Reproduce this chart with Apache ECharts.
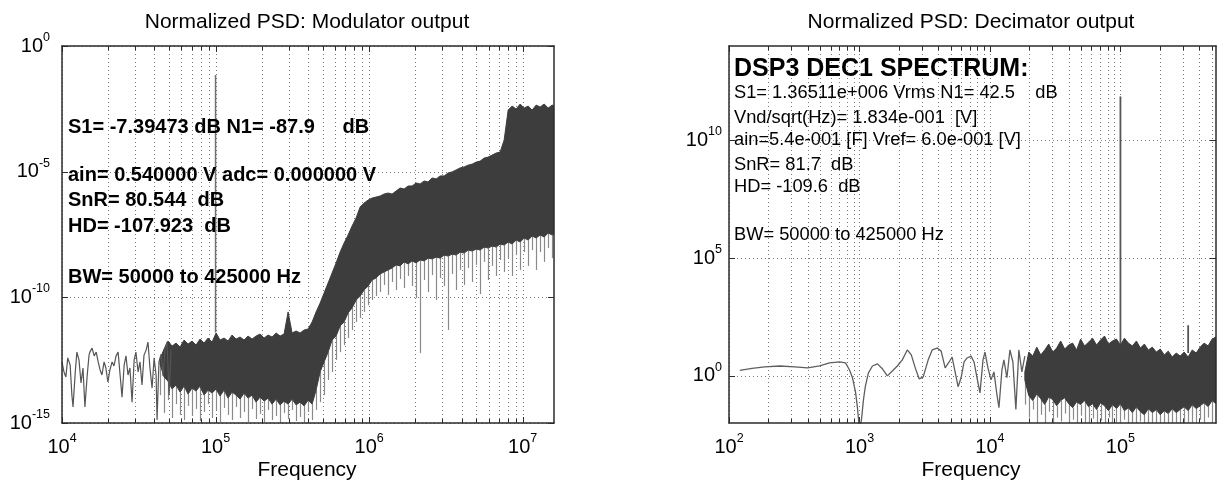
<!DOCTYPE html>
<html><head><meta charset="utf-8">
<script src="https://cdn.jsdelivr.net/npm/echarts@6/dist/echarts.min.js"></script>
<style>html,body{margin:0;padding:0;background:#fff}#c{width:1219px;height:484px}</style>
</head><body><div id="c"></div>
<script>
// ---------- Left panel: Modulator output (PSD in dB, frequency in Hz) ----------
const modXRange = [1e4, 1.6e7];
const modYRange = [1e-15, 1];
const modXDecades = [1e4, 1e5, 1e6, 1e7];
const modYTicks = [1e-15, 1e-10, 1e-5, 1];
const modSparseF = [10000,10300,10600,10900,11300,11600,11800,12200,12500,12900,13300,13700,14100,14600,15000,15200,15700,16200,16700,17200,17700,18200,18800,19300,19900,20500,21200,21800,22500,23200,23900,24600,25400,26100,26900,27700,28600,29500,30300,31300,32200,33200,34200,35300,36300,37400,38600,39800,41000,41600,42800,44200,45500,46900,48300,49800,51300];
const modSparseDb = [-125.7,-129.7,-131.7,-124.1,-126.9,-138.9,-143.6,-129.7,-121.8,-124.9,-134.1,-128.1,-143.6,-130.9,-123.0,-121.8,-120.2,-123.3,-121.8,-125.7,-128.9,-130.9,-125.7,-128.1,-133.7,-128.9,-125.7,-127.3,-123.3,-121.8,-130.9,-139.7,-126.9,-123.3,-130.9,-128.1,-141.7,-124.9,-121.8,-129.7,-125.7,-134.9,-123.0,-121.0,-117.8,-128.1,-136.1,-124.1,-130.9,-148.8,-125.7,-122.6,-131.3,-120.2,-117.8,-138.9,-121.0];
const modBandF = [43500,46200,49000,52100,55300,58700,62400,66200,70300,74600,79300,84200,89400,94900,100800,107000,113600,120600,128100,136000,144400,153400,162800,172900,183600,195000,207000,219800,233400,247900,263200,279500,296800,315100,334600,355300,377300,400600,425400,451700,479600,509300,540800,574200,609600,647400,687400,729900,775100,823000,873900,927800,985100,1046000,1111000,1179000,1252000,1330000,1412000,1499000,1592000,1690000,1795000,1906000,2024000,2149000,2282000,2423000,2573000,2732000,2901000,3081000,3271000,3474000,3688000,3916000,4159000,4416000,4689000,4979000,5286000,5613000,5960000,6329000,6721000,7136000,7578000,8046000,8544000,9073000,9632000,10230000,10860000,11530000,12240000,13000000,13810000,14660000,15570000,16000000];
const modBandHiDb = [-124.5,-120.6,-117.4,-119.4,-118.2,-119.8,-117.0,-118.6,-117.4,-119.0,-116.6,-118.2,-116.2,-117.8,-114.2,-117.0,-116.2,-117.4,-115.0,-116.6,-115.8,-117.0,-115.4,-116.6,-115.4,-114.6,-116.2,-115.0,-115.8,-114.2,-115.4,-114.6,-105.8,-114.2,-113.4,-114.2,-113.0,-112.6,-109.8,-105.8,-102.3,-98.3,-94.3,-90.3,-86.3,-82.0,-78.4,-75.2,-71.6,-68.4,-64.1,-62.5,-61.3,-60.5,-60.1,-59.7,-58.9,-58.5,-58.9,-57.7,-56.5,-56.9,-55.7,-55.7,-54.5,-54.9,-53.7,-54.1,-52.5,-52.9,-51.7,-51.7,-50.5,-50.1,-49.3,-48.5,-48.1,-47.4,-47.0,-46.2,-45.8,-44.6,-44.2,-43.4,-42.6,-42.2,-37.4,-25.5,-23.9,-25.1,-23.1,-24.7,-23.9,-25.5,-23.5,-24.3,-23.1,-24.7,-23.5,-23.9];
const modBandLoDb = [-126.5,-131.7,-133.3,-136.5,-134.9,-137.7,-135.3,-138.5,-136.1,-137.3,-135.3,-138.9,-136.9,-138.1,-136.5,-139.3,-136.9,-140.1,-137.7,-138.9,-140.5,-138.1,-140.1,-138.9,-141.7,-139.7,-141.3,-140.1,-142.5,-140.5,-142.8,-141.3,-142.5,-140.5,-142.8,-141.7,-143.2,-140.9,-142.5,-136.9,-129.7,-125.7,-121.8,-117.0,-115.4,-111.4,-109.8,-106.2,-104.2,-101.1,-99.5,-97.1,-95.5,-93.1,-92.3,-90.7,-89.9,-89.1,-88.3,-87.1,-87.5,-85.9,-86.7,-85.5,-86.3,-85.1,-85.5,-84.4,-84.7,-84.0,-84.4,-83.2,-83.6,-82.8,-83.2,-82.0,-82.4,-81.2,-81.6,-80.8,-81.2,-80.0,-80.4,-79.6,-80.0,-78.8,-79.2,-78.0,-78.8,-77.2,-78.0,-76.4,-77.2,-75.6,-76.4,-75.2,-76.0,-74.4,-75.2,-74.8];
const modSpikeDb = [-138.9,-146.0,-140.9,-148.0,-142.5,-146.8,-148.8,-143.2,-147.2,-144.4,-149.2,-145.6,-142.5,-148.0,-144.8,-149.6,-144.0,-146.8,-148.8,-143.6,-148.0,-145.6,-149.6,-144.4,-148.4,-146.4,-149.6,-144.8,-148.8,-147.2,-150.0,-146.0,-148.4,-144.8,-149.2,-147.6,-150.0,-145.6,-148.8,-144.8,-141.7,-138.9,-132.9,-129.7,-124.9,-121.8,-119.0,-116.2,-113.0,-109.8,-108.2,-105.8,-103.1,-101.1,-99.5,-97.9,-95.1,-99.1,-93.9,-97.1,-92.7,-96.3,-91.5,-95.5,-100.3,-122.2,-93.1,-97.9,-91.1,-101.1,-92.3,-95.5,-113.0,-90.7,-97.1,-89.1,-95.1,-88.3,-93.9,-87.1,-98.7,-85.9,-93.1,-87.5,-91.5,-85.1,-89.9,-84.4,-91.5,-83.2,-89.1,-82.0,-87.5,-81.2,-89.1,-82.0,-85.9,-80.4,-84.4,-81.2];
const modToneF = 100000;
const modToneDb = [-114.0, -11.5];

// ---------- Right panel: Decimator output ----------
const decXRange = [100, 5.4e5];
const decYRange = [1e-2, 1e14];
const decXDecades = [1e2, 1e3, 1e4, 1e5];
const decYTicks = [1, 1e5, 1e10];
const decSmoothF = [121,150,188,245,319,401,495,590,704,782,839,884,932,965,1000,1036,1073,1111,1171,1257,1372,1498,1636,1786,1950,2129,2325,2495,2676,2871,3080,3363,3608,3939,4227,4535,4864,5128,5406,5698,6007,6332,6675,7161,7549,7958,8389,8844,9157,9654,10180,10730,11310,11720,12350,12790,13490,14220,14990,15800,16650,17560,18510];
const decSmoothDb = [2.3,3.2,3.8,4.2,3.8,3.4,4.2,5.5,5.9,5.5,2.5,-0.8,-6.8,-13.5,-23.0,-18.6,-10.1,-4.2,1.3,4.2,5.1,3.0,0.0,2.1,4.2,6.8,11.0,8.9,3.4,-1.3,-0.4,6.8,11.0,11.8,10.5,3.4,5.9,8.0,1.7,-4.6,-0.8,5.9,7.6,8.4,5.9,-0.8,-7.2,6.8,10.1,3.4,-1.7,1.7,-8.0,-13.5,2.5,6.8,-0.8,11.0,5.9,-14.3,11.0,1.7,8.4];
const decBandF = [18510,19850,21290,22850,24510,26300,28200,30260,32470,34830,37370,40100,43010,46150,49510,53120,56980,61150,65600,70380,75520,81020,86910,93250,100000,107300,115100,123500,132500,142200,152500,163600,175500,188300,202000,216800,232500,249500,267600,287100,308000,330400,354500,380400,408100,437800,469700,503900,540000];
const decBandHiDb = [1.7,10.1,8.4,12.2,8.9,11.0,13.5,10.1,11.8,14.8,11.4,13.1,13.9,11.0,15.6,12.7,14.3,16.0,13.1,15.2,16.9,13.5,14.8,15.6,13.1,16.0,13.9,12.7,14.8,11.8,13.5,11.0,12.2,10.1,11.4,8.9,10.5,8.0,9.7,8.4,10.1,8.0,11.0,9.7,12.2,13.9,12.7,15.6,16.5];
const decBandLoDb = [-1.7,-8.4,-10.5,-7.6,-9.7,-12.2,-8.9,-10.1,-12.7,-10.5,-9.3,-11.8,-13.5,-11.0,-12.2,-10.5,-13.1,-11.8,-14.3,-11.4,-12.7,-14.8,-12.2,-13.9,-11.8,-14.8,-13.5,-15.6,-13.1,-15.2,-16.5,-13.9,-15.6,-14.3,-16.5,-14.8,-16.0,-13.9,-15.6,-14.3,-13.1,-14.8,-12.2,-13.9,-12.7,-11.4,-13.1,-10.5,-11.8];
const decSpikeDb = [-12.2,-17.7,-14.3,-21.9,-16.5,-20.7,-15.2,-21.9,-17.7,-19.4,-16.0,-21.9,-18.6,-21.9,-16.9,-20.3,-21.9,-18.1,-21.9,-19.0,-21.9,-17.7,-21.9,-20.3,-21.9,-18.6,-21.9,-21.1,-21.9,-19.4,-21.9,-21.9,-20.3,-21.9,-21.9,-21.1,-21.9,-21.9,-20.7,-21.9,-21.9,-19.8,-21.9,-21.9,-18.6,-21.9,-17.7,-21.9,-16.9];
const decToneF = [100000, 330400];
const decToneBaseDb = [13.5, 9.7];
const decToneTopDb = [118.6, 21.5];

const minorMult = [2,3,4,5,6,7,8,9];

// ---------- styling ----------
const FONT = '"Liberation Sans", Arial, Helvetica, sans-serif';
const AXIS = '#2b2b2b';
const GRID = '#7a7a7a';
const DARK = '#3d3d3d';
const SPIKE = '#8a8a8a';
const lin = d => Math.pow(10, d / 10);

function minorsOf(decades, max) {
  const out = [];
  decades.forEach(d => minorMult.forEach(m => { if (d * m <= max) out.push(d * m); }));
  return out;
}
function powLabel(step) {
  return function (v) {
    const e = Math.log10(v), n = Math.round(e);
    if (Math.abs(e - n) > 1e-6 || n % step !== 0) return '';
    return '{b|10}{s|' + n + '}';
  };
}
const rich = {
  b: { fontSize: 20, fontFamily: FONT, color: '#000', verticalAlign: 'middle', lineHeight: 30 },
  s: { fontSize: 12.5, fontFamily: FONT, color: '#000', verticalAlign: 'top', lineHeight: 12 }
};
function xAx(grid, range, pos, labels) {
  return {
    type: 'log', logBase: 10, gridIndex: grid, position: pos, min: range[0], max: range[1], interval: 1,
    z: 10,
    axisLine: { show: true, onZero: false, lineStyle: { color: AXIS, width: 1.5 } },
    axisTick: { show: false }, splitLine: { show: false }, minorTick: { show: false },
    axisLabel: labels ? { show: true, margin: 9, formatter: powLabel(1), rich, showMinLabel: true, showMaxLabel: true } : { show: false }
  };
}
function yAx(grid, range, pos, labels, interval, margin) {
  return {
    type: 'log', logBase: 10, gridIndex: grid, position: pos, min: range[0], max: range[1], interval: interval,
    z: 10,
    axisLine: { show: true, onZero: false, lineStyle: { color: AXIS, width: 1.5 } },
    axisTick: { show: false }, splitLine: { show: false }, minorTick: { show: false },
    axisLabel: labels ? { show: true, margin: margin, formatter: powLabel(5), rich, showMinLabel: true, showMaxLabel: true } : { show: false }
  };
}
function vGrid(xi, yi, majors, minors, yRef) {
  const vals = majors.map(v => [v, yRef, 1]).concat(minors.map(v => [v, yRef, 0]));
  return {
    type: 'custom', xAxisIndex: xi, yAxisIndex: yi, z: 1, silent: true, clip: false,
    encode: { x: 0, y: 1 }, data: vals,
    renderItem(params, api) {
      const cs = params.coordSys;
      const x = Math.round(api.coord([api.value(0), yRef])[0]) + 0.5;
      const tl = api.value(2) ? 6 : 4;
      const top = cs.y, bot = cs.y + cs.height;
      return { type: 'group', children: [
        { type: 'line', shape: { x1: x, y1: top, x2: x, y2: bot }, style: { stroke: GRID, lineWidth: 1, lineDash: [1, 3] } },
        { type: 'line', shape: { x1: x, y1: bot, x2: x, y2: bot - tl }, style: { stroke: AXIS, lineWidth: 1 } },
        { type: 'line', shape: { x1: x, y1: top, x2: x, y2: top + tl }, style: { stroke: AXIS, lineWidth: 1 } }
      ] };
    }
  };
}
function hGrid(xi, yi, majors, xRef) {
  return {
    type: 'custom', xAxisIndex: xi, yAxisIndex: yi, z: 1, silent: true, clip: false,
    encode: { x: 0, y: 1 }, data: majors.map(v => [xRef, v]),
    renderItem(params, api) {
      const cs = params.coordSys;
      const y = Math.round(api.coord([xRef, api.value(1)])[1]) + 0.5;
      const l = cs.x, r = cs.x + cs.width;
      return { type: 'group', children: [
        { type: 'line', shape: { x1: l, y1: y, x2: r, y2: y }, style: { stroke: GRID, lineWidth: 1, lineDash: [1, 3] } },
        { type: 'line', shape: { x1: l, y1: y, x2: l + 6, y2: y }, style: { stroke: AXIS, lineWidth: 1 } },
        { type: 'line', shape: { x1: r, y1: y, x2: r - 6, y2: y }, style: { stroke: AXIS, lineWidth: 1 } }
      ] };
    }
  };
}
function band(xi, yi, F, hi, lo) {
  return {
    type: 'custom', xAxisIndex: xi, yAxisIndex: yi, z: 3, silent: true, clip: true,
    encode: { x: 0, y: 1 }, data: [[F[0], lin(hi[0])]],
    renderItem(params, api) {
      const pts = [];
      for (let i = 0; i < F.length; i++) pts.push(api.coord([F[i], lin(hi[i])]));
      for (let i = F.length - 1; i >= 0; i--) pts.push(api.coord([F[i], lin(lo[i])]));
      return { type: 'polygon', shape: { points: pts }, style: { fill: DARK, stroke: DARK, lineWidth: 1 } };
    }
  };
}
function spikes(xi, yi, F, from, to) {
  return {
    type: 'custom', xAxisIndex: xi, yAxisIndex: yi, z: 2, silent: true, clip: true,
    encode: { x: 0, y: 1 }, data: F.map((f, i) => [f, lin(from[i]), lin(to[i])]),
    renderItem(params, api) {
      const a = api.coord([api.value(0), api.value(1)]);
      const b = api.coord([api.value(0), api.value(2)]);
      const x = Math.round(a[0]) + 0.5;
      return { type: 'line', shape: { x1: x, y1: a[1], x2: x, y2: b[1] }, style: { stroke: SPIKE, lineWidth: 1.2 } };
    }
  };
}
function lineS(xi, yi, F, db, color, width) {
  return {
    type: 'line', xAxisIndex: xi, yAxisIndex: yi, z: 4, silent: true, symbol: 'none', animation: false,
    data: F.map((f, i) => [f, lin(db[i])]), lineStyle: { color, width }
  };
}
function txt(x, y, text, font, align) {
  return { type: 'text', x, y, z: 100, silent: true,
    style: { text, font, fill: '#000', textAlign: align || 'left', align: align || 'left', textVerticalAlign: 'middle', verticalAlign: 'middle' } };
}

const chart = echarts.init(document.getElementById('c'), null, { renderer: 'canvas' });
const series = [
  vGrid(0, 0, modXDecades, minorsOf(modXDecades.slice(0, 3), modXRange[1]), modYRange[0]),
  hGrid(0, 0, modYTicks, modXRange[0]),
  vGrid(2, 2, decXDecades, minorsOf(decXDecades, decXRange[1]), decYRange[0]),
  hGrid(2, 2, decYTicks, decXRange[0]),
  lineS(0, 0, modSparseF, modSparseDb, '#555', 1.2),
  spikes(0, 0, modBandF, modBandLoDb, modSpikeDb),
  band(0, 0, modBandF, modBandHiDb, modBandLoDb),
  lineS(0, 0, [modToneF, modToneF], modToneDb, '#707070', 1.5),
  lineS(2, 2, decSmoothF, decSmoothDb, '#5e5e5e', 1.3),
  spikes(2, 2, decBandF, decBandLoDb, decSpikeDb),
  band(2, 2, decBandF, decBandHiDb, decBandLoDb)
];
decToneF.forEach((f, i) => series.push(lineS(2, 2, [f, f], [decToneBaseDb[i], decToneTopDb[i]], '#555', 1.8)));

const B20 = 'bold 20px ' + FONT;
const R18 = '18.3px ' + FONT;
chart.setOption({
  animation: false,
  backgroundColor: '#fff',
  grid: [
    { left: 62, top: 46, width: 492, height: 377 },
    { left: 729, top: 46, width: 489, height: 377 }
  ],
  xAxis: [
    xAx(0, modXRange, 'bottom', true), xAx(0, modXRange, 'top', false),
    xAx(1, decXRange, 'bottom', true), xAx(1, decXRange, 'top', false)
  ],
  yAxis: [
    yAx(0, modYRange, 'left', true, 5, 12), yAx(0, modYRange, 'right', false, 5, 0),
    yAx(1, decYRange, 'left', true, 1, 7), yAx(1, decYRange, 'right', false, 1, 0)
  ],
  series,
  graphic: [
    txt(307, 22, 'Normalized PSD: Modulator output', '21px ' + FONT, 'center'),
    txt(971, 22, 'Normalized PSD: Decimator output', '21px ' + FONT, 'center'),
    txt(307, 470, 'Frequency', '21px ' + FONT, 'center'),
    txt(971, 470, 'Frequency', '21px ' + FONT, 'center'),
    txt(68, 127, 'S1= -7.39473 dB N1= -87.9     dB', B20),
    txt(68, 175, 'ain= 0.540000 V adc= 0.000000 V', B20),
    txt(68, 200, 'SnR= 80.544  dB', B20),
    txt(68, 226, 'HD= -107.923  dB', B20),
    txt(68, 277, 'BW= 50000 to 425000 Hz', B20),
    txt(734, 69, 'DSP3 DEC1 SPECTRUM:', 'bold 25px ' + FONT),
    txt(734, 93, 'S1= 1.36511e+006 Vrms N1= 42.5    dB', R18),
    txt(734, 118, 'Vnd/sqrt(Hz)= 1.834e-001  [V]', R18),
    txt(734, 140, 'ain=5.4e-001 [F] Vref= 6.0e-001 [V]', R18),
    txt(734, 165, 'SnR= 81.7  dB', R18),
    txt(734, 187, 'HD= -109.6  dB', R18),
    txt(734, 235, 'BW= 50000 to 425000 Hz', R18)
  ]
});
</script>
</body></html>
